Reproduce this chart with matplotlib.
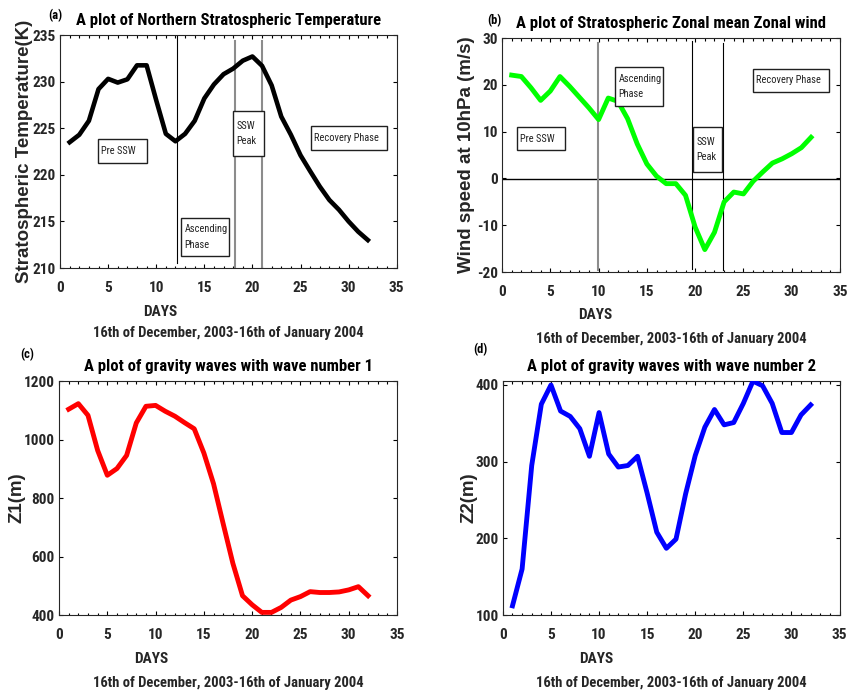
import numpy as np
import matplotlib
matplotlib.use('Agg')
import matplotlib.pyplot as plt
from matplotlib.patches import Rectangle
from matplotlib.ticker import MultipleLocator

NARROW = ['Roboto Condensed', 'PT Sans Narrow', 'Liberation Sans', 'DejaVu Sans']
WIDE = ['Liberation Sans', 'DejaVu Sans']
plt.rcParams['font.family'] = NARROW
plt.rcParams['axes.unicode_minus'] = False

days = np.arange(1, 33)

temp = [223.5, 224.3, 225.8, 229.2, 230.3, 229.9, 230.25, 231.75, 231.75, 228.0,
        224.4, 223.6, 224.4, 225.8, 228.2, 229.7, 230.8, 231.4, 232.25, 232.7,
        231.7, 229.6, 226.25, 224.3, 222.1, 220.4, 218.75, 217.3, 216.25, 215.0,
        213.9, 213.0]

wind = [22.1, 21.8, 19.4, 16.7, 18.7, 21.8, 19.7, 17.4, 15.1, 12.6,
        17.2, 16.5, 12.8, 7.4, 3.1, 0.5, -1.1, -1.1, -3.6, -10.4,
        -15.2, -11.5, -5.0, -2.9, -3.3, -0.6, 1.4, 3.3, 4.2, 5.3,
        6.6, 8.8]

z1 = [1104, 1123, 1083, 963, 878, 901, 946, 1057, 1114, 1117,
      1097, 1080, 1058, 1037, 954, 849, 712, 577, 466, 435,
      409, 409, 426, 451, 463, 480, 477, 477, 479, 486,
      497, 466]

z2 = [112, 160, 295, 375, 400, 366, 359, 343, 307, 364,
      310, 293, 295, 307, 259, 208, 187, 199, 258, 308,
      345, 368, 348, 351, 376, 405, 399, 376, 338, 338,
      361, 374]

# phase markers: (x, ymin, ymax, colour, width)
temp_lines = [(12.2, 210.5, 234.9, 'black', 0.8),
              (18.2, 210.0, 234.4, '#8c8c8c', 1.5),
              (21.0, 210.0, 234.4, '#8c8c8c', 1.5)]
wind_lines = [(9.92, -19.5, 29.0, '#8c8c8c', 1.5),
              (19.7, -19.3, 29.4, 'black', 0.8),
              (22.9, -19.5, 29.0, 'black', 0.8)]

# phase boxes: (label, x0, x1, y0, y1)
temp_boxes = [('Pre SSW', 3.9, 9.0, 221.25, 223.8),
              ('Ascending\nPhase', 12.6, 17.6, 211.3, 215.4),
              ('SSW\nPeak', 18.0, 21.2, 222.0, 226.9),
              ('Recovery Phase', 26.05, 33.96, 222.7, 225.2)]
wind_boxes = [('Pre SSW', 1.55, 6.57, 6.0, 11.0),
              ('Ascending\nPhase', 11.7, 16.7, 15.6, 23.8),
              ('SSW\nPeak', 19.8, 22.8, 1.4, 11.0),
              ('Recovery Phase', 26.0, 33.9, 18.5, 23.45)]

fig = plt.figure(figsize=(8.48, 6.94), dpi=100)
ax1 = fig.add_axes([0.0708, 0.6138, 0.397, 0.3357])
ax2 = fig.add_axes([0.592, 0.608, 0.3986, 0.337])
ax3 = fig.add_axes([0.0696, 0.1138, 0.3986, 0.337])
ax4 = fig.add_axes([0.593, 0.1138, 0.397, 0.337])


def style(ax, ylo, yhi, ystep):
    ax.set_xlim(0, 35)
    ax.set_ylim(ylo, yhi)
    ax.xaxis.set_major_locator(MultipleLocator(5))
    ax.xaxis.set_minor_locator(MultipleLocator(1))
    ax.yaxis.set_major_locator(MultipleLocator(ystep))
    ax.tick_params(which='both', direction='in', top=True, right=True,
                   labelsize=11)
    ax.tick_params(axis='x', pad=9.5)
    ax.tick_params(axis='y', pad=3)
    ax.tick_params(which='major', length=3.2, width=0.8)
    ax.tick_params(which='minor', length=1.8, width=0.8)
    for lbl in ax.get_xticklabels() + ax.get_yticklabels():
        lbl.set_fontweight('bold')
        lbl.set_color('#262626')
    for sp in ax.spines.values():
        sp.set_linewidth(0.8)
        sp.set_color('#262626')


def phase_boxes(ax, boxes):
    for label, x0, x1, y0, y1 in boxes:
        ax.add_patch(Rectangle((x0, y0), x1 - x0, y1 - y0, facecolor='white',
                               edgecolor='#202020', linewidth=1.0, zorder=4))
        ax.text(x0 + 0.35, (y0 + y1) / 2, label, fontsize=7.5, va='center',
                ha='left', zorder=5, linespacing=1.7, color='#222222')


def labels(ax, title, ylabel, ylab_x, days_x, y1, y2):
    ax.set_title(title, fontsize=12, fontweight='bold', pad=7)
    ax.set_ylabel(ylabel, fontsize=13.5, fontweight='bold', color='#262626',
                  family=WIDE, va='center')
    ax.yaxis.set_label_coords(ylab_x, 0.5)
    ax.text(days_x, y1, 'DAYS', transform=ax.transAxes, ha='center', va='center',
            fontsize=11, fontweight='bold', color='#262626')
    ax.text(0.5, y2, '16th of December, 2003-16th of January 2004',
            transform=ax.transAxes, ha='center', va='center', fontsize=10.5,
            fontweight='bold', color='#262626')


# (a) temperature
ax1.plot(days, temp, color='black', linewidth=3.3, zorder=3)
for x, lo, hi, c, w in temp_lines:
    ax1.plot([x, x], [lo, hi], color=c, linewidth=w, zorder=2)
phase_boxes(ax1, temp_boxes)
style(ax1, 210, 235, 5)
labels(ax1, 'A plot of Northern Stratospheric Temperature',
       'Stratospheric Temperature(K)', -0.106, 0.297, -0.189, -0.279)
fig.text(0.0649, 0.978, '(a)', fontsize=9, fontweight='bold', ha='center', va='center')

# (b) zonal wind
ax2.plot(days, wind, color='#00ff00', linewidth=3.5, zorder=3)
ax2.axhline(-0.2, color='black', linewidth=1.0, zorder=2)
for x, lo, hi, c, w in wind_lines:
    ax2.plot([x, x], [lo, hi], color=c, linewidth=w, zorder=2)
phase_boxes(ax2, wind_boxes)
style(ax2, -20, 30, 10)
labels(ax2, 'A plot of Stratospheric Zonal mean Zonal wind',
       'Wind speed at 10hPa (m/s)', -0.106, 0.275, -0.184, -0.286)
fig.text(0.5825, 0.971, '(b)', fontsize=9, fontweight='bold', ha='center', va='center')

# (c) wave number 1
ax3.plot(days, z1, color='#ff0000', linewidth=3.5, zorder=3)
style(ax3, 400, 1200, 200)
labels(ax3, 'A plot of gravity waves with wave number 1', 'Z1(m)',
       -0.124, 0.272, -0.188, -0.291)
fig.text(0.0318, 0.4885, '(c)', fontsize=9, fontweight='bold', ha='center', va='center')

# (d) wave number 2
ax4.plot(days, z2, color='#0000ff', linewidth=3.5, zorder=3)
style(ax4, 100, 405, 100)
labels(ax4, 'A plot of gravity waves with wave number 2', 'Z2(m)',
       -0.101, 0.276, -0.188, -0.291)
fig.text(0.567, 0.4957, '(d)', fontsize=9, fontweight='bold', ha='center', va='center')

fig.savefig('out.png', dpi=100)
